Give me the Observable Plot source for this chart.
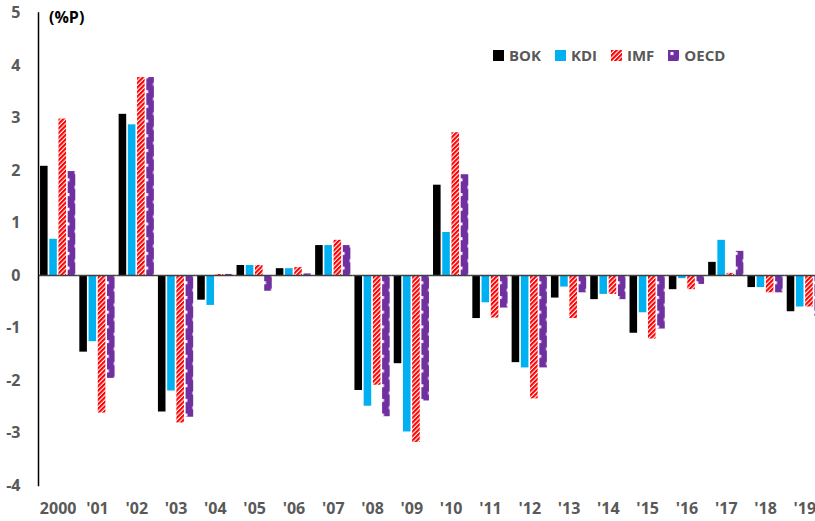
<!DOCTYPE html>
<html>
<head>
<meta charset="utf-8">
<script src="https://cdn.jsdelivr.net/npm/d3@7"></script>
<script src="https://cdn.jsdelivr.net/npm/@observablehq/plot@0.6"></script>
<style>
  html, body { margin: 0; padding: 0; background: #fff; overflow: hidden; }
  #wrap { position: relative; width: 815px; height: 521px; overflow: hidden; }
  #chart svg { display: block; }
  #chart svg [aria-label$="tick label"] text, #chart svg [aria-label$="tick label"] { fill: #595959; }
  #unit { position: absolute; left: 49px; top: 6px; font: bold 16px "Open Sans", sans-serif; color: #000; }
  #legend { position: absolute; left: 493px; top: 45px; display: flex; align-items: center;
            font: bold 15px "Open Sans", sans-serif; color: #595959; }
  #legend .item { display: flex; align-items: center; margin-right: 14px; }
  #legend svg { margin-right: 5px; display: block; }
</style>
</head>
<body>
<svg width="0" height="0" style="position:absolute">
  <defs>
    <pattern id="imfPat" patternUnits="userSpaceOnUse" width="3.2" height="3.2" patternTransform="rotate(45)">
      <rect width="3.2" height="3.2" fill="#fff"></rect>
      <rect width="2.1" height="3.2" fill="#FF0000"></rect>
    </pattern>
    <pattern id="oecdPat" patternUnits="userSpaceOnUse" width="16" height="14.7">
      <rect width="16" height="14.7" fill="#7030A0"></rect>
      <rect x="2.5" y="2" width="3" height="3" fill="#fff"></rect>
      <rect x="10.5" y="9.35" width="3" height="3" fill="#fff"></rect>
    </pattern>
  </defs>
</svg>
<div id="wrap">
  <div id="chart"></div>
  <div id="unit">(%P)</div>
  <div id="legend"></div>
</div>
<script>
const years = ["2000","'01","'02","'03","'04","'05","'06","'07","'08","'09","'10","'11","'12","'13","'14","'15","'16","'17","'18","'19"];
const seriesNames = ["BOK","KDI","IMF","OECD"];
const bok  = [2.08,-1.46,3.07,-2.60,-0.47,0.19,0.13,0.57,-2.19,-1.68,1.72,-0.82,-1.66,-0.43,-0.46,-1.10,-0.27,0.25,-0.23,-0.69];
const kdi  = [0.69,-1.26,2.87,-2.20,-0.57,0.19,0.13,0.57,-2.49,-2.98,0.82,-0.52,-1.76,-0.22,-0.36,-0.71,-0.06,0.67,-0.23,-0.60];
const imf  = [2.98,-2.62,3.77,-2.81,0.02,0.19,0.15,0.67,-2.09,-3.18,2.72,-0.81,-2.35,-0.82,-0.36,-1.21,-0.27,0.04,-0.33,-0.60];
const oecd = [1.98,-1.96,3.77,-2.70,0.02,-0.30,0.03,0.57,-2.69,-2.39,1.92,-0.62,-1.76,-0.33,-0.46,-1.02,-0.17,0.46,-0.33,-0.78];
const yTicks = [-4,-3,-2,-1,0,1,2,3,4,5];
const fills = ["#000000","#00B0F0","url(#imfPat)","url(#oecdPat)"];

const seriesValues = [bok, kdi, imf, oecd];
const data = [];
years.forEach((yr, i) => {
  seriesNames.forEach((s, j) => data.push({year: yr, series: s, value: seriesValues[j][i]}));
});

const chart = Plot.plot({
  width: 815,
  height: 521,
  marginLeft: 38,
  marginRight: -9,
  marginTop: 12.5,
  marginBottom: 36,
  style: {fontFamily: "'Open Sans', sans-serif", fontSize: "16px", fontWeight: "bold", background: "#fff"},
  fx: {domain: years, padding: 0, round: false, label: null},
  x: {domain: seriesNames, axis: null, paddingInner: 0.18, paddingOuter: 0.22, round: false},
  y: {domain: [-4, 5], label: null},
  color: {domain: seriesNames, range: fills},
  marks: [
    Plot.barY(data, {fx: "year", x: "series", y: "value", fill: "series"}),
    Plot.ruleY([0], {stroke: "#404040", strokeWidth: 1.5}),
    Plot.frame({anchor: "left", facetAnchor: "left", stroke: "#000", strokeWidth: 1.5}),
    Plot.axisY({ticks: yTicks, tickFormat: d => String(d), tickSize: 0, tickPadding: 18, label: null}),
    Plot.axisFx({anchor: "bottom", tickSize: 0, tickPadding: 17, label: null})
  ]
});
document.getElementById("chart").appendChild(chart);

// legend
const legend = document.getElementById("legend");
seriesNames.forEach((s, j) => {
  const item = document.createElement("div");
  item.className = "item";
  item.innerHTML = `<svg width="11" height="11"><rect width="11" height="11" fill="${fills[j]}"></rect></svg><span>${s}</span>`;
  legend.appendChild(item);
});
</script>
</body>
</html>
